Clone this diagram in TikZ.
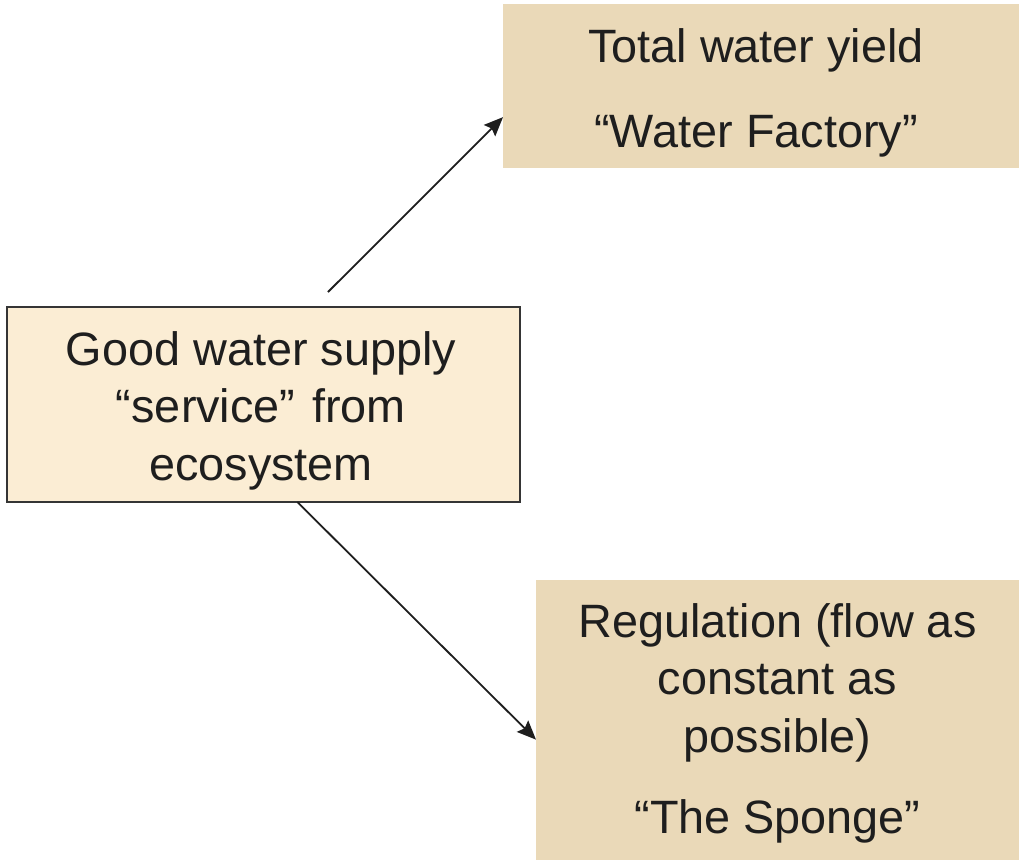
\documentclass[tikz,border=0pt]{standalone}
\usepackage{fontspec}
\setmainfont{Liberation Sans}
\usetikzlibrary{arrows.meta,calc}
\definecolor{tan}{RGB}{234,217,184}
\definecolor{lighttan}{RGB}{251,237,212}
\definecolor{ink}{RGB}{30,30,30}
\begin{document}
\begin{tikzpicture}[x=1pt,y=-1pt,
  card/.style={rectangle,inner sep=0pt,outer sep=0pt,fill=tan},
  label/.style={anchor=base,align=center,inner sep=0pt,text=ink,
    font=\fontsize{46.8}{57.5}\selectfont},
  arr/.style={draw=ink,line width=1.8pt,-{Stealth[length=19pt,width=16pt,inset=3pt]}}]
\useasboundingbox (0,0) rectangle (1019,860);
\fill[white] (0,0) rectangle (1019,860);
% boxes
\node[card,minimum width=516pt,minimum height=164pt] (top) at (761,86) {};
\node[card,fill=lighttan,draw=ink!90,line width=1.6pt,minimum width=513pt,minimum height=195pt] (mid) at (263.5,404.5) {};
\node[card,minimum width=483pt,minimum height=280pt] (bot) at (777.5,720) {};
% texts (anchored at the baseline of the last line)
\node[label] (toptext) at (756,147) {Total water yield\\[27.5pt]“Water Factory”};
\node[label] (midtext) at (261,480) {Good water supply\\“service”\hspace{4pt} from\\ecosystem};
\node[label] (bottext) at (777.5,833) {Regulation (flow as\\constant as\\possible)\\[23.5pt]“The Sponge”};
% connectors
\coordinate (a1s) at (328,292);
\draw[arr] (a1s) -- ($(top.north west)!0.69!(top.south west)$);
\draw[arr] ($(mid.south west)!0.566!(mid.south east)$) -- ($(bot.north west)!0.57!(bot.south west)$);
\end{tikzpicture}
\end{document}
